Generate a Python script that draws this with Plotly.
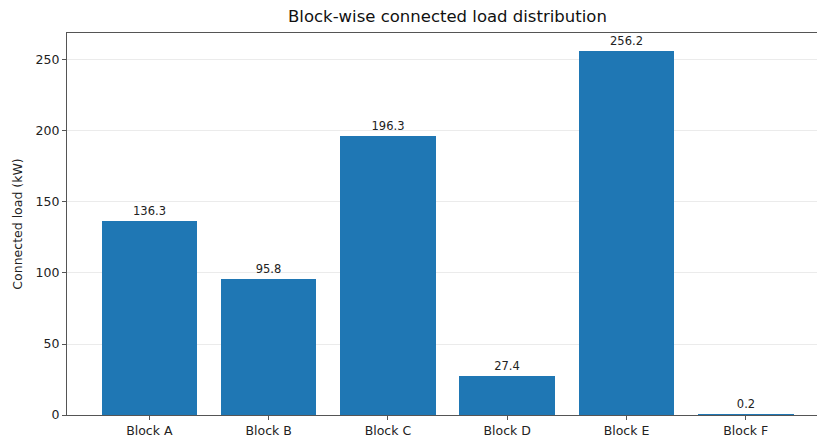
import plotly.graph_objects as go

categories = ["Block A", "Block B", "Block C", "Block D", "Block E", "Block F"]
loads_kw = [136.3, 95.8, 196.3, 27.4, 256.2, 0.2]
y_ticks = [0, 50, 100, 150, 200, 250]

W, H = 817, 439
L, R, T, B = 67, 0, 33, 24

fig = go.Figure()
fig.add_trace(go.Bar(
    x=list(range(len(categories))),
    y=loads_kw,
    width=0.8,
    marker=dict(color="#1f77b4", line=dict(width=0)),
    text=[f"{v:.1f}" for v in loads_kw],
    textposition="outside",
    textfont=dict(family="DejaVu Sans", size=11.5, color="#222"),
    cliponaxis=False,
))

fig.update_layout(
    width=W, height=H,
    margin=dict(l=L, r=R, t=T, b=B, autoexpand=False),
    plot_bgcolor="white", paper_bgcolor="white",
    font=dict(family="DejaVu Sans", size=12, color="#222"),
    showlegend=False,
    bargap=0,
)
fig.update_xaxes(
    range=[-0.69, 5.597],
    tickmode="array", tickvals=list(range(len(categories))), ticktext=categories,
    showline=True, linecolor="#555", linewidth=1.2, mirror=True,
    ticks="outside", ticklen=4, tickcolor="#555",
    showgrid=False, zeroline=False,
    tickfont=dict(size=12.5),
)
fig.update_yaxes(
    range=[0, 269.0],
    tickmode="array", tickvals=y_ticks,
    showline=True, linecolor="#555", linewidth=1.2, mirror=False,
    ticks="outside", ticklen=4, tickcolor="#555",
    showgrid=True, gridcolor="#ebebeb", gridwidth=1,
    zeroline=False,
    tickfont=dict(size=12.5),
    title=dict(text="Connected load (kW)", font=dict(size=12.5), standoff=10),
)
fig.add_annotation(
    text="Block-wise connected load distribution",
    xref="x", yref="paper", x=2.5, y=1, yshift=5,
    xanchor="center", yanchor="bottom", showarrow=False,
    font=dict(family="DejaVu Sans", size=16.5, color="#111"),
)

fig.write_html(
    "out.html",
    config={"displayModeBar": False},
    post_script="document.body.style.margin='0';document.body.style.overflow='hidden';",
)
